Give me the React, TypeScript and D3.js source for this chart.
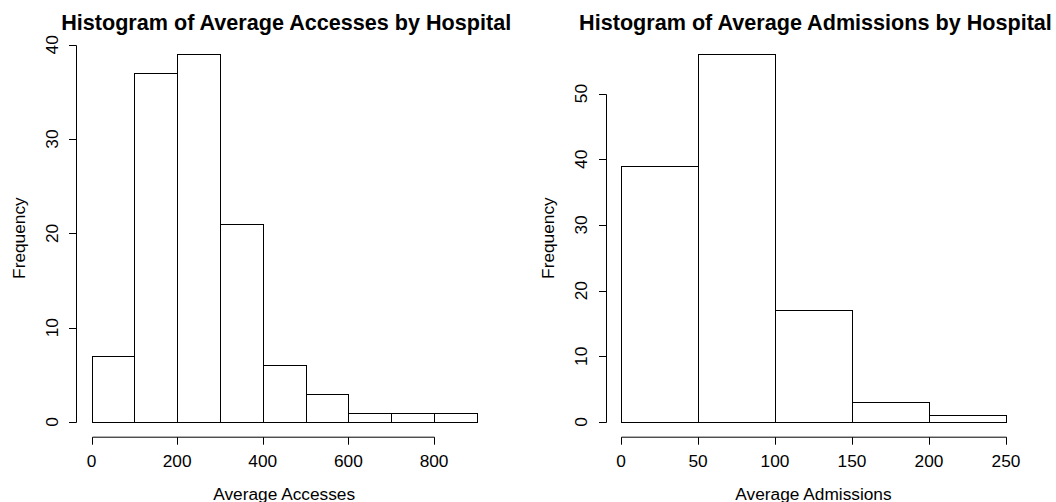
import React from "react";
import * as d3 from "d3";

const accessBreaks = [0, 100, 200, 300, 400, 500, 600, 700, 800, 900];
const accessCounts = [7, 37, 39, 21, 6, 3, 1, 1, 1];
const accessXTicks = [0, 200, 400, 600, 800];
const accessYTicks = [0, 10, 20, 30, 40];

const admBreaks = [0, 50, 100, 150, 200, 250];
const admCounts = [39, 56, 17, 3, 1];
const admXTicks = [0, 50, 100, 150, 200, 250];
const admYTicks = [0, 10, 20, 30, 40, 50];

const FONT = "'Liberation Sans', Arial, Helvetica, sans-serif";
const TICK_FS = 17.3;

type PanelProps = {
  title: string;
  xlab: string;
  breaks: number[];
  counts: number[];
  xTicks: number[];
  yTicks: number[];
  left: number;
  right: number;
};

function Panel({ title, xlab, breaks, counts, xTicks, yTicks, left, right }: PanelProps) {
  const top = 39.5;
  const bottom = 436.7;
  const xMin = breaks[0];
  const xMax = breaks[breaks.length - 1];
  const yMax = d3.max(counts) as number;
  const xr = xMax - xMin;
  const x = d3
    .scaleLinear()
    .domain([xMin - 0.04 * xr, xMax + 0.04 * xr])
    .range([left, right]);
  const y = d3
    .scaleLinear()
    .domain([-0.04 * yMax, yMax * 1.04])
    .range([bottom, top]);
  const axisY = bottom + 0.5;
  const axisX = Math.round(left) + 0.5;
  const cx = (left + right) / 2;
  const cy = (top + bottom) / 2;
  return (
    <g>
      <text x={cx + 2} y={30} textAnchor="middle" fontFamily={FONT} fontWeight="bold" fontSize={21.6}>
        {title}
      </text>
      {counts.map((c, i) => {
        const x0 = Math.round(x(breaks[i])) + 0.5;
        const x1 = Math.round(x(breaks[i + 1])) + 0.5;
        const y0 = Math.round(y(0)) + 0.5;
        const y1 = Math.round(y(c)) + 0.5;
        return (
          <rect
            key={i}
            x={x0}
            y={y1}
            width={x1 - x0}
            height={y0 - y1}
            fill="white"
            stroke="black"
            strokeWidth={1}
          />
        );
      })}
      <line
        x1={Math.round(x(xTicks[0])) + 0.5}
        x2={Math.round(x(xTicks[xTicks.length - 1])) + 0.5}
        y1={axisY}
        y2={axisY}
        stroke="black"
      />
      {xTicks.map((t) => (
        <g key={t}>
          <line
            x1={Math.round(x(t)) + 0.5}
            x2={Math.round(x(t)) + 0.5}
            y1={axisY}
            y2={axisY + 7.5}
            stroke="black"
          />
          <text x={x(t)} y={467} textAnchor="middle" fontFamily={FONT} fontSize={TICK_FS}>
            {t}
          </text>
        </g>
      ))}
      <text x={cx} y={499.5} textAnchor="middle" fontFamily={FONT} fontSize={TICK_FS}>
        {xlab}
      </text>
      <line
        x1={axisX}
        x2={axisX}
        y1={Math.round(y(yTicks[0])) + 0.5}
        y2={Math.round(y(yTicks[yTicks.length - 1])) + 0.5}
        stroke="black"
      />
      {yTicks.map((t) => (
        <g key={t}>
          <line
            x1={axisX - 7.5}
            x2={axisX}
            y1={Math.round(y(t)) + 0.5}
            y2={Math.round(y(t)) + 0.5}
            stroke="black"
          />
          <text
            transform={`translate(${left - 18.5},${y(t)}) rotate(-90)`}
            textAnchor="middle"
            fontFamily={FONT}
            fontSize={TICK_FS}
          >
            {t}
          </text>
        </g>
      ))}
      <text
        transform={`translate(${left - 51.5},${cy}) rotate(-90)`}
        textAnchor="middle"
        fontFamily={FONT}
        fontSize={TICK_FS}
      >
        Frequency
      </text>
    </g>
  );
}

export default function App() {
  return (
    <svg
      width={1056}
      height={502}
      style={{ position: "absolute", left: 0, top: 0, background: "white" }}
    >
      <rect width={1056} height={502} fill="white" />
      <Panel
        title="Histogram of Average Accesses by Hospital"
        xlab="Average Accesses"
        breaks={accessBreaks}
        counts={accessCounts}
        xTicks={accessXTicks}
        yTicks={accessYTicks}
        left={76.1}
        right={492.3}
      />
      <Panel
        title="Histogram of Average Admissions by Hospital"
        xlab="Average Admissions"
        breaks={admBreaks}
        counts={admCounts}
        xTicks={admXTicks}
        yTicks={admYTicks}
        left={605.6}
        right={1021.4}
      />
    </svg>
  );
}
